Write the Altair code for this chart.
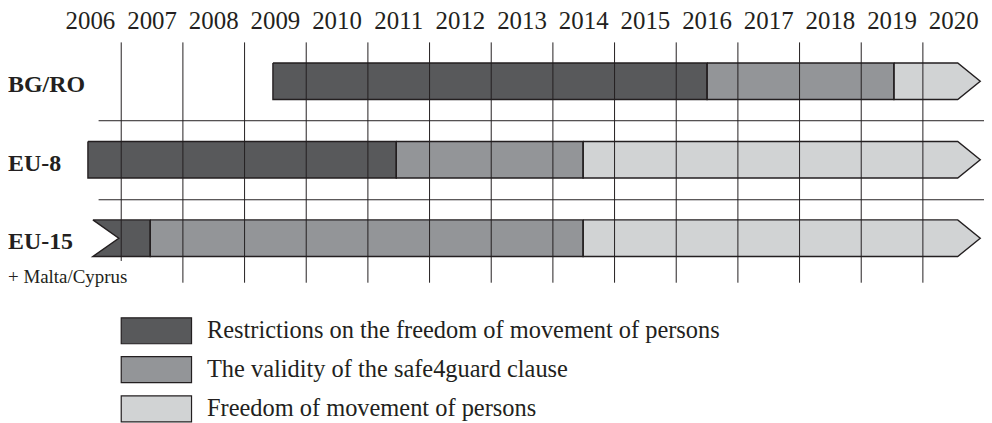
import altair as alt
import pandas as pd

# ---------------- data ----------------
years = list(range(2006, 2021))
grid_years = list(range(2007, 2021))
rows = ["BG/RO", "EU-8", "EU-15"]
categories = [
    "Restrictions on the freedom of movement of persons",
    "The validity of the safe4guard clause",
    "Freedom of movement of persons",
]
colors = ["#58595b", "#939598", "#d1d3d4"]

seg_row = [0, 0, 0, 1, 1, 1, 2, 2, 2]
seg_kind = [0, 1, 2, 0, 1, 2, 0, 1, 2]
seg_start = [2009.46, 2016.50, 2019.53, 2006.46, 2011.46, 2014.49, 2006.54, 2007.47, 2014.49]
seg_end = [2016.50, 2019.53, 2020.565, 2011.46, 2014.49, 2020.565, 2007.47, 2014.49, 2020.565]
seg_arrow = [False, False, True, False, False, True, False, False, True]
seg_notch = [False, False, False, False, False, False, True, False, False]

footnote = "+ Malta/Cyprus"

# ---------------- style ----------------
INK = "#231f20"
SERIF = "Liberation Serif"
HALF = 0.233          # half bar height (row units)
ARROW = 0.365         # arrow head length (years)
NOTCH = 0.42          # notch depth (years)
OVL = 0.04            # small overlap to hide seams
W, H = 980, 415
X0, X1 = 2005.1638, 2020.991
Y0 = -0.9226
Y1 = Y0 + H / 78.8

xs = alt.Scale(domain=[X0, X1], nice=False, zero=False)
ys = alt.Scale(domain=[Y0, Y1], nice=False, zero=False, reverse=True)
cs = alt.Scale(domain=categories, range=colors)

# ---------------- geometry tables built from data ----------------
rect_rows, tri_rows, line_rows = [], [], []
for s in range(len(seg_row)):
    r = seg_row[s]
    top, bot = r - HALF, r + HALF
    x0, x1 = seg_start[s], seg_end[s]
    cat = categories[seg_kind[s]]
    if seg_notch[s]:
        xn = x0 + NOTCH
        rect_rows.append({"x": xn, "x2": x1, "y": top, "y2": bot, "cat": cat})
        tri = {
            "b": [(x0, top, top), (xn, top, r), (xn + OVL, top, r)],
            "c": [(x0, bot, bot), (xn, r, bot), (xn + OVL, r, bot)],
        }
        outline = [(x0, top), (x1, top), (x1, bot), (x0, bot), (xn, r), (x0, top)]
    elif seg_arrow[s]:
        rect_rows.append({"x": x0, "x2": x1, "y": top, "y2": bot, "cat": cat})
        tri = {"a": [(x1 - OVL, top, bot), (x1, top, bot), (x1 + ARROW, r, r)]}
        outline = [(x0, top), (x1, top), (x1 + ARROW, r), (x1, bot), (x0, bot), (x0, top)]
    else:
        rect_rows.append({"x": x0, "x2": x1, "y": top, "y2": bot, "cat": cat})
        tri = {}
        outline = [(x0, top), (x1, top), (x1, bot), (x0, bot), (x0, top)]
    for pk, pts in tri.items():
        for i, (x, ya, yb) in enumerate(pts):
            tri_rows.append({"piece": f"{s}{pk}", "i": i, "x": x, "y": ya, "y2": yb, "cat": cat})
    for i, (x, y) in enumerate(outline):
        line_rows.append({"seg": s, "i": i, "x": x, "y": y})

rects = pd.DataFrame(rect_rows)
tris = pd.DataFrame(tri_rows)
outlines = pd.DataFrame(line_rows)

grid = pd.DataFrame({
    "x": grid_years,
    "y": [-0.495] * len(grid_years),
    "y2": [2.29] + [2.567] * (len(grid_years) - 1),
})
seps = pd.DataFrame({"x": [2006.633, 2006.633], "x2": [2021.5, 2021.5], "y": [0.503, 1.51]})
year_lbl = pd.DataFrame({"x": [y + 0.5 for y in years], "y": [-0.660] * len(years),
                         "t": [str(y) for y in years]})
row_lbl = pd.DataFrame({"x": [X0] * 3, "y": [r + 0.139 for r in range(3)], "t": rows})
foot = pd.DataFrame({"x": [X0], "y": [2.575], "t": [footnote]})
leg = pd.DataFrame({
    "x": [2007.0] * 3, "x2": [2008.14] * 3,
    "y": [3.015, 3.510, 4.010], "y2": [3.345, 3.840, 4.340],
    "tx": [2008.39] * 3, "ty": [3.269, 3.767, 4.265],
    "cat": categories,
})

# ---------------- layers ----------------
bars = alt.Chart(rects).mark_rect(strokeWidth=0).encode(
    x=alt.X("x:Q", scale=xs, axis=None),
    x2="x2:Q",
    y=alt.Y("y:Q", scale=ys, axis=None),
    y2="y2:Q",
    color=alt.Color("cat:N", scale=cs, legend=None),
)
heads = alt.Chart(tris).mark_area(interpolate="linear", orient="vertical", opacity=1).encode(
    x=alt.X("x:Q", scale=xs, axis=None, stack=None),
    y=alt.Y("y:Q", scale=ys, axis=None, stack=None),
    y2="y2:Q",
    detail="piece:N",
    color=alt.Color("cat:N", scale=cs, legend=None),
)
outline = alt.Chart(outlines).mark_line(color=INK, strokeWidth=1.4, strokeJoin="miter").encode(
    x=alt.X("x:Q", scale=xs, axis=None),
    y=alt.Y("y:Q", scale=ys, axis=None),
    detail="seg:N",
    order="i:Q",
)
vgrid = alt.Chart(grid).mark_rule(color=INK, strokeWidth=1).encode(
    x=alt.X("x:Q", scale=xs, axis=None),
    y=alt.Y("y:Q", scale=ys, axis=None),
    y2="y2:Q",
)
hsep = alt.Chart(seps).mark_rule(color=INK, strokeWidth=1).encode(
    x=alt.X("x:Q", scale=xs, axis=None),
    x2="x2:Q",
    y=alt.Y("y:Q", scale=ys, axis=None),
)
ytext = alt.Chart(year_lbl).mark_text(font=SERIF, fontSize=25, color=INK, align="center",
                                      baseline="alphabetic").encode(
    x=alt.X("x:Q", scale=xs, axis=None),
    y=alt.Y("y:Q", scale=ys, axis=None),
    text="t:N",
)
rtext = alt.Chart(row_lbl).mark_text(font=SERIF, fontSize=24, fontWeight="bold", color=INK,
                                     align="left", baseline="alphabetic").encode(
    x=alt.X("x:Q", scale=xs, axis=None),
    y=alt.Y("y:Q", scale=ys, axis=None),
    text="t:N",
)
ftext = alt.Chart(foot).mark_text(font=SERIF, fontSize=19, color=INK, align="left",
                                  baseline="alphabetic").encode(
    x=alt.X("x:Q", scale=xs, axis=None),
    y=alt.Y("y:Q", scale=ys, axis=None),
    text="t:N",
)
lbox = alt.Chart(leg).mark_rect(stroke=INK, strokeWidth=1.2).encode(
    x=alt.X("x:Q", scale=xs, axis=None),
    x2="x2:Q",
    y=alt.Y("y:Q", scale=ys, axis=None),
    y2="y2:Q",
    color=alt.Color("cat:N", scale=cs, legend=None),
)
ltext = alt.Chart(leg).mark_text(font=SERIF, fontSize=24.5, color=INK, align="left",
                                 baseline="alphabetic").encode(
    x=alt.X("tx:Q", scale=xs, axis=None),
    y=alt.Y("ty:Q", scale=ys, axis=None),
    text="cat:N",
)

chart = alt.layer(
    bars, heads, outline, vgrid, hsep, ytext, rtext, ftext, lbox, ltext
).properties(
    width=W, height=H, padding=0, autosize=alt.AutoSizeParams(type="none"), background="white"
).configure_view(stroke=None)

chart.save("out.html", embed_options={"renderer": "svg", "actions": False})
